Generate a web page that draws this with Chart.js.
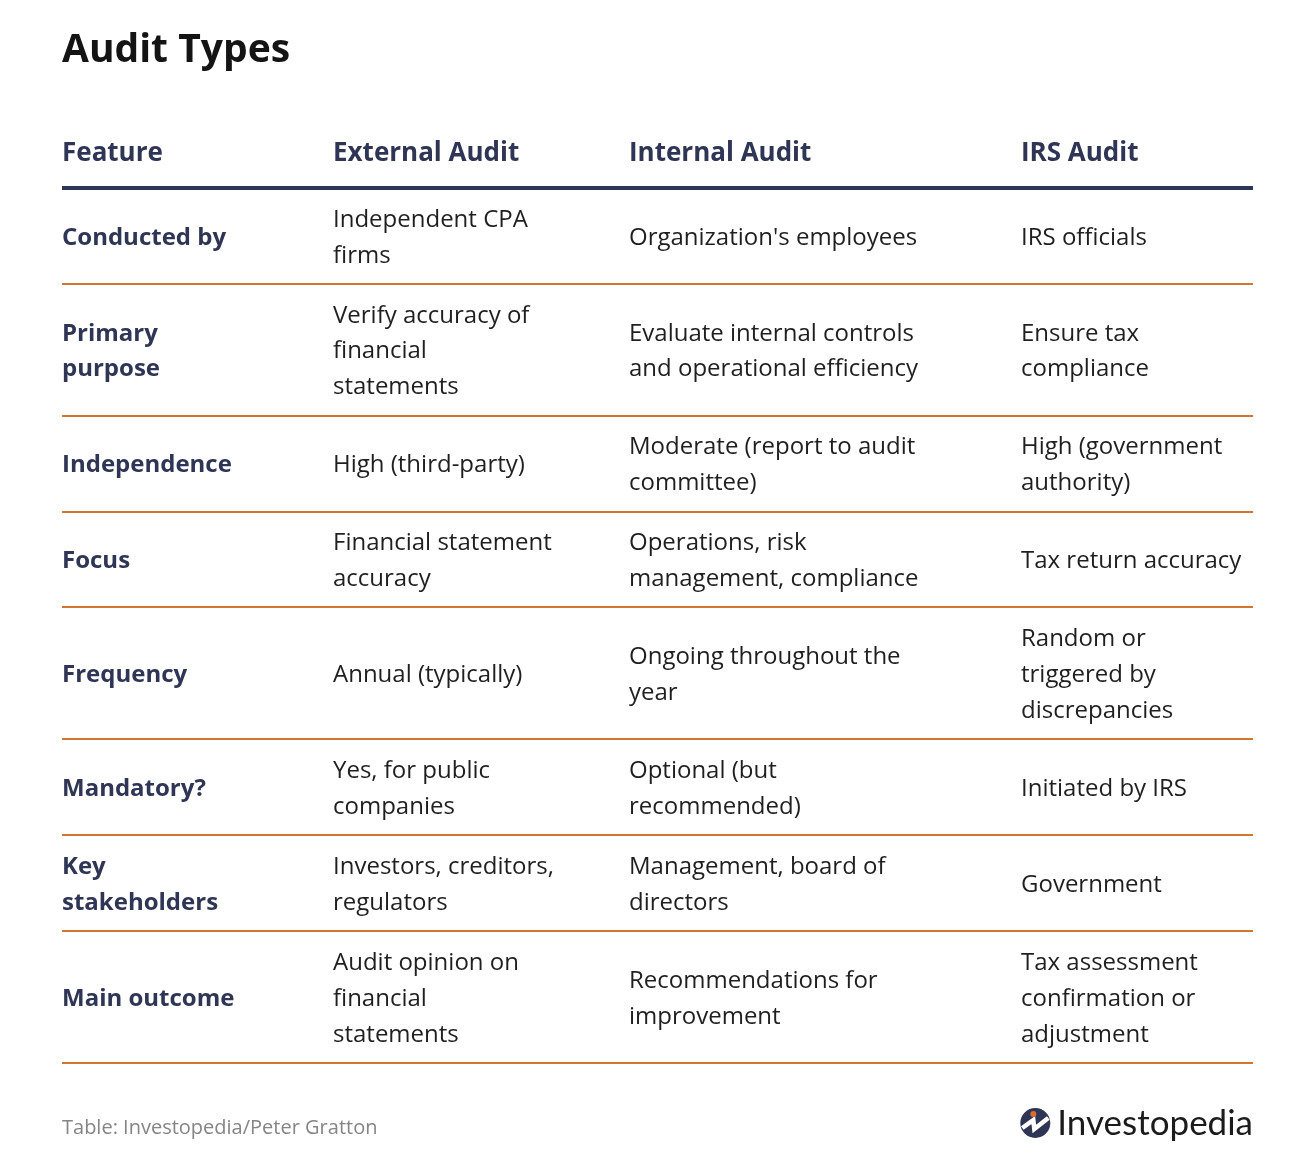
<!DOCTYPE html>
<html>
<head>
<meta charset="utf-8">
<title>Audit Types</title>
<script src="https://cdn.jsdelivr.net/npm/chart.js@4.4.1/dist/chart.umd.min.js"></script>
<style>
  html, body { margin: 0; padding: 0; background: #ffffff; }
  #wrap { width: 1292px; height: 1168px; position: relative; }
</style>
</head>
<body>
<div id="wrap"><canvas id="auditTable"></canvas></div>
<script>
// Table contents, line breaks as in the reference
const columnHeaders = ["Feature", "External Audit", "Internal Audit", "IRS Audit"];
const features = [
  "Conducted by", "Primary\npurpose", "Independence", "Focus",
  "Frequency", "Mandatory?", "Key\nstakeholders", "Main outcome"
];
const externalAudit = [
  "Independent CPA\nfirms",
  "Verify accuracy of\nfinancial\nstatements",
  "High (third-party)",
  "Financial statement\naccuracy",
  "Annual (typically)",
  "Yes, for public\ncompanies",
  "Investors, creditors,\nregulators",
  "Audit opinion on\nfinancial\nstatements"
];
const internalAudit = [
  "Organization's employees",
  "Evaluate internal controls\nand operational efficiency",
  "Moderate (report to audit\ncommittee)",
  "Operations, risk\nmanagement, compliance",
  "Ongoing throughout the\nyear",
  "Optional (but\nrecommended)",
  "Management, board of\ndirectors",
  "Recommendations for\nimprovement"
];
const irsAudit = [
  "IRS officials",
  "Ensure tax\ncompliance",
  "High (government\nauthority)",
  "Tax return accuracy",
  "Random or\ntriggered by\ndiscrepancies",
  "Initiated by IRS",
  "Government",
  "Tax assessment\nconfirmation or\nadjustment"
];
const sourceNote = "Table: Investopedia/Peter Gratton";

// Layout settings (relative widths of the columns, row spacing in 1/3 lines)
const columnWidths = [271, 296, 392, 232];
const unitsPerLine = 3;
const rowPadUnits = 2;

const NAVY = "#2f3554";
const ORANGE = "#d0762e";
const INK = "#1f1f1f";
const FONT = "'Open Sans', 'Noto Sans', sans-serif";

const columns = [features, externalAudit, internalAudit, irsAudit];
const colStarts = columnWidths.map((w, i) => columnWidths.slice(0, i).reduce((a, b) => a + b, 0));
const totalWidth = columnWidths.reduce((a, b) => a + b, 0);

const rowLines = features.map((_, r) =>
  Math.max(...columns.map((col) => col[r].split("\n").length))
);
const rowEdges = [0];
rowLines.forEach((n) => rowEdges.push(rowEdges[rowEdges.length - 1] + n * unitsPerLine + rowPadUnits));
const rowCenters = rowLines.map((_, r) => (rowEdges[r] + rowEdges[r + 1]) / 2);

// one invisible anchor point per cell, so every cell sits on the scales
const cellPoints = [];
columns.forEach((col, c) => {
  col.forEach((text, r) => cellPoints.push({ x: colStarts[c], y: rowCenters[r], text: text, col: c }));
});

const tableText = {
  id: "tableText",
  afterDatasetsDraw(chart) {
    const { ctx, scales } = chart;
    const x = scales.x, y = scales.y;
    const linePx = y.getPixelForValue(unitsPerLine) - y.getPixelForValue(0);
    const nudge = 2; // optical centring of text in its row
    ctx.save();
    ctx.textBaseline = "middle";
    ctx.textAlign = "left";

    // header row, one line above the header rule
    ctx.fillStyle = NAVY;
    ctx.font = "bold 26px " + FONT;
    columnHeaders.forEach((h, c) => {
      ctx.fillText(h, x.getPixelForValue(colStarts[c]), y.getPixelForValue(-unitsPerLine) + nudge);
    });

    // body cells
    cellPoints.forEach((p) => {
      const lines = p.text.split("\n");
      ctx.fillStyle = p.col === 0 ? NAVY : INK;
      ctx.font = (p.col === 0 ? "bold " : "") + "24px " + FONT;
      const cy = y.getPixelForValue(p.y) + nudge;
      lines.forEach((ln, i) => {
        ctx.fillText(ln, x.getPixelForValue(p.x), cy + (i - (lines.length - 1) / 2) * linePx);
      });
    });

    // source note and logo
    const left = chart.chartArea.left, right = chart.chartArea.right;
    const footY = chart.chartArea.bottom + 65;
    ctx.fillStyle = "#858585";
    ctx.font = "20px " + FONT;
    ctx.fillText(sourceNote, left, footY);

    ctx.font = "35px Lato, " + FONT;
    ctx.fillStyle = "#1b1b1b";
    ctx.textAlign = "right";
    ctx.fillText("Investopedia", right, footY - 4);
    const textW = ctx.measureText("Investopedia").width;
    const cx = right - textW - 22, cyy = footY - 5, rad = 15;
    ctx.beginPath();
    ctx.arc(cx, cyy, rad, 0, Math.PI * 2);
    ctx.fillStyle = NAVY;
    ctx.fill();
    ctx.beginPath();
    ctx.moveTo(cx - 13, cyy + 5);
    ctx.lineTo(cx - 2, cyy - 3);
    ctx.lineTo(cx - 1, cyy + 6);
    ctx.lineTo(cx + 13, cyy - 5);
    ctx.strokeStyle = "#ffffff";
    ctx.lineWidth = 4.5;
    ctx.lineJoin = "miter";
    ctx.stroke();
    ctx.beginPath();
    ctx.arc(cx - 2, cyy - 9, 3, 0, Math.PI * 2);
    ctx.fillStyle = "#e06a2c";
    ctx.fill();
    ctx.restore();
  }
};

new Chart(document.getElementById("auditTable"), {
  type: "scatter",
  data: {
    datasets: [{
      data: cellPoints,
      pointRadius: 0,
      pointHoverRadius: 0
    }]
  },
  options: {
    responsive: true,
    maintainAspectRatio: false,
    animation: false,
    events: [],
    layout: { padding: { left: 62, right: 39, top: 0, bottom: 105 } },
    plugins: {
      legend: { display: false },
      tooltip: { enabled: false },
      title: {
        display: true,
        text: "Audit Types",
        align: "start",
        color: "#141414",
        font: { family: FONT, size: 39, weight: "bold", lineHeight: 1.2 },
        padding: { top: 27, bottom: 114 }
      }
    },
    scales: {
      x: {
        type: "linear",
        display: false,
        min: 0,
        max: totalWidth
      },
      y: {
        type: "linear",
        reverse: true,
        min: 0,
        max: rowEdges[rowEdges.length - 1],
        afterBuildTicks(scale) {
          scale.ticks = rowEdges.map((v) => ({ value: v }));
        },
        ticks: { display: false },
        border: { display: false },
        grid: {
          drawTicks: false,
          color: (c) => (c.index === 0 ? NAVY : ORANGE),
          lineWidth: (c) => (c.index === 0 ? 4 : 2)
        }
      }
    }
  },
  plugins: [tableText]
});
</script>
</body>
</html>
